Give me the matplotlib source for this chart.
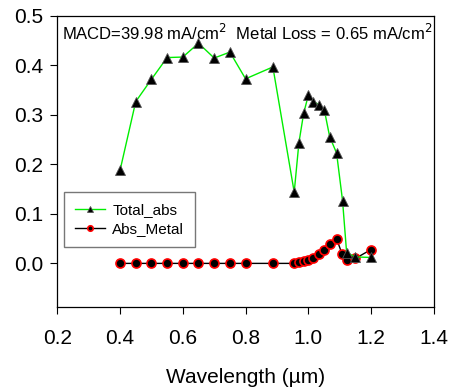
import matplotlib
matplotlib.use("Agg")
import matplotlib.pyplot as plt

plt.rcParams['font.family'] = ['Liberation Sans', 'DejaVu Sans']

# Wavelength (um) and absorption values
total_wl = [0.40, 0.45, 0.50, 0.55, 0.60, 0.65, 0.70, 0.75, 0.80, 0.887, 0.955,
            0.97, 0.985, 1.00, 1.016, 1.033, 1.051, 1.068, 1.09, 1.109, 1.122,
            1.15, 1.20]
total_abs = [0.188, 0.327, 0.372, 0.416, 0.417, 0.445, 0.415, 0.427, 0.373, 0.397,
             0.144, 0.244, 0.303, 0.340, 0.327, 0.321, 0.310, 0.256, 0.223, 0.127,
             0.022, 0.013, 0.012]

metal_wl = [0.40, 0.45, 0.50, 0.55, 0.60, 0.65, 0.70, 0.75, 0.80, 0.887, 0.955,
            0.97, 0.985, 1.00, 1.016, 1.033, 1.051, 1.068, 1.09, 1.108, 1.122,
            1.15, 1.20]
abs_metal = [0.0, 0.0, 0.0, 0.0, 0.0, 0.0, 0.0, 0.0, 0.0, 0.0, 0.0,
             0.003, 0.004, 0.007, 0.011, 0.019, 0.027, 0.039, 0.050, 0.018, 0.007,
             0.010, 0.028]

x_ticks = [0.2, 0.4, 0.6, 0.8, 1.0, 1.2, 1.4]
y_ticks = [0.0, 0.1, 0.2, 0.3, 0.4, 0.5]

fig = plt.figure(figsize=(4.51, 3.90), dpi=100)
ax = fig.add_axes([0.127, 0.213, 0.835, 0.746])

ax.plot(total_wl, total_abs, color='#00ee00', lw=1.0, marker='^', ms=7.5,
        mfc='black', mec='#555555', mew=0.6, label='Total_abs', zorder=3)
ax.plot(metal_wl, abs_metal, color='black', lw=1.0, marker='o', ms=6.5,
        mfc='black', mec='red', mew=1.2, label='Abs_Metal', zorder=2)

ax.set_xlim(0.2, 1.4)
ax.set_ylim(-0.088, 0.5)
ax.set_xticks(x_ticks)
ax.set_xticklabels([f'{v:.1f}' for v in x_ticks])
ax.set_yticks(y_ticks)
ax.set_yticklabels([f'{v:.1f}' for v in y_ticks])
ax.tick_params(direction='out', length=5, width=0.8, labelsize=15, pad=5)
ax.tick_params(axis='x', pad=11)

for s in ax.spines.values():
    s.set_linewidth(0.9)

ax.set_xlabel('Wavelength (\u00b5m)', fontsize=15, labelpad=14)

ax.text(0.012, 0.975, 'MACD=39.98 mA/cm$^2$  Metal Loss = 0.65 mA/cm$^2$',
        transform=ax.transAxes, ha='left', va='top', fontsize=12)

leg = ax.legend(loc='upper left', bbox_to_anchor=(0.018, 0.394), fontsize=11,
                frameon=True, fancybox=False, handlelength=2.0, numpoints=1,
                markerscale=0.6, borderpad=0.7, labelspacing=0.35,
                handletextpad=0.45, borderaxespad=0.0)
leg.get_frame().set_edgecolor('#555555')
leg.get_frame().set_linewidth(1.0)

fig.savefig('out.png', dpi=100)
